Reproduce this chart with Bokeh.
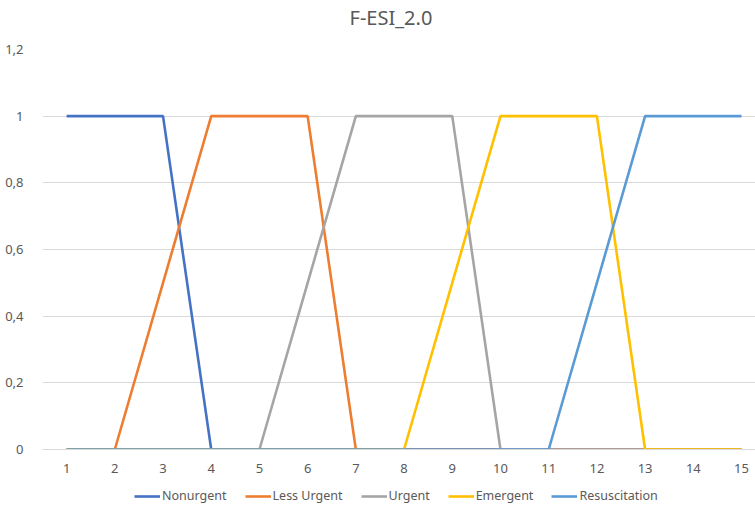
from bokeh.plotting import figure
from bokeh.models import Legend, LegendItem, FixedTicker, CustomJSTickFormatter, Range1d, Title
from bokeh.layouts import column
from bokeh.embed import file_html
from bokeh.resources import INLINE

x = [1, 2, 3, 4, 5, 6, 7, 8, 9, 10, 11, 12, 13, 14, 15]
nonurgent =     [1, 1, 1, 0, 0, 0, 0, 0, 0, 0, 0, 0, 0, 0, 0]
less_urgent =   [0, 0, 0.5, 1, 1, 1, 0, 0, 0, 0, 0, 0, 0, 0, 0]
urgent =        [0, 0, 0, 0, 0, 0.5, 1, 1, 1, 0, 0, 0, 0, 0, 0]
emergent =      [0, 0, 0, 0, 0, 0, 0, 0, 0.5, 1, 1, 1, 0, 0, 0]
resuscitation = [0, 0, 0, 0, 0, 0, 0, 0, 0, 0, 0, 0.5, 1, 1, 1]
series_names = ["Nonurgent", "Less Urgent", "Urgent", "Emergent", "Resuscitation"]
y_ticks = [0, 0.2, 0.4, 0.6, 0.8, 1.0, 1.2]
chart_title = "F-ESI_2.0"

colors = ["#4472C4", "#ED7D31", "#A5A5A5", "#FFC000", "#5B9BD5"]
FONT = "Noto Sans"
TXT = "#595959"

p = figure(width=755, height=480, output_backend="svg", toolbar_location=None,
           x_range=Range1d(0.5, 15.29), y_range=Range1d(0, 1.2),
           min_border_left=42, min_border_right=0, min_border_top=49, min_border_bottom=31,
           title=None)
p.outline_line_color = None

# spacer between frame and title (closest to the frame), then the title
spacer = Title(text=" ", text_font_size="1px", standoff=14)
p.add_layout(spacer, "above")
title = Title(text=chart_title, align="left", vertical_align="top", offset=307, standoff=0,
              text_font=FONT, text_font_size="20px", text_font_style="normal", text_color=TXT)
p.add_layout(title, "above")

series = [nonurgent, less_urgent, urgent, emergent, resuscitation]
for name, ys, c in zip(series_names, series, colors):
    p.line(x, ys, line_color=c, line_width=2.6)

p.xaxis.ticker = FixedTicker(ticks=x)
p.yaxis.ticker = FixedTicker(ticks=y_ticks)
p.yaxis.formatter = CustomJSTickFormatter(code="return tick.toFixed(1).replace('.', ',').replace(',0', '');")
for ax in (p.xaxis, p.yaxis):
    ax.major_tick_line_color = None
    ax.minor_tick_line_color = None
    ax.major_label_text_font = FONT
    ax.major_label_text_font_size = "13px"
    ax.major_label_text_color = TXT
p.yaxis.axis_line_color = None
p.yaxis.major_label_standoff = 13
p.xaxis.axis_line_color = "#D9D9D9"
p.xaxis.major_label_standoff = 8
p.xgrid.grid_line_color = None
p.ygrid.grid_line_color = "#D9D9D9"
p.ygrid.ticker = FixedTicker(ticks=y_ticks)

# legend strip below the chart (its lines lie outside its visible range)
lf = figure(width=755, height=25, output_backend="svg", toolbar_location=None,
            x_range=Range1d(0, 1), y_range=Range1d(10, 11),
            min_border_left=0, min_border_right=0, min_border_top=0, min_border_bottom=0)
lf.axis.visible = False
lf.grid.visible = False
lf.outline_line_color = None
items = []
for name, ys, c in zip(series_names, series, colors):
    r = lf.line(x, ys, line_color=c, line_width=2.6)
    items.append(LegendItem(label=name, renderers=[r]))
legend = Legend(items=items, orientation="horizontal", location=(92, 1),
                label_text_font=FONT, label_text_font_size="12.5px", label_text_color=TXT,
                glyph_width=26, glyph_height=14, label_standoff=2, spacing=18,
                padding=2, margin=0, border_line_color=None, background_fill_alpha=0)
lf.add_layout(legend)

layout = column(p, lf, spacing=0)
open("out.html", "w").write(file_html(layout, INLINE))
